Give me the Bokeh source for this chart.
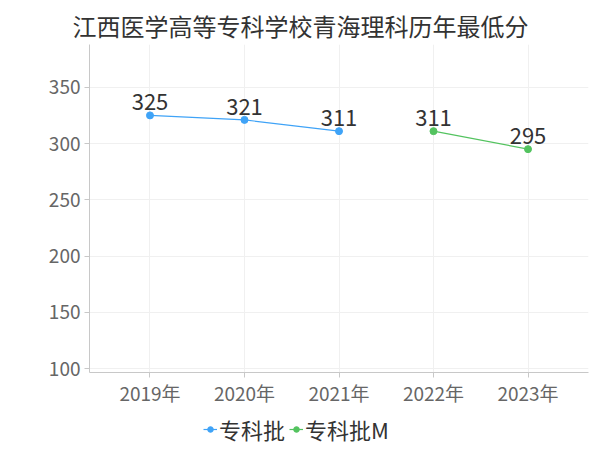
from bokeh.plotting import figure
from bokeh.layouts import column
from bokeh.models import ColumnDataSource, Legend, LegendItem, FixedTicker, Range1d
from bokeh.core.properties import value
from bokeh.embed import file_html
from bokeh.resources import INLINE

title = "江西医学高等专科学校青海理科历年最低分"
years = ["2019年", "2020年", "2021年", "2022年", "2023年"]
s1_name = "专科批"
s1_idx = [0, 1, 2]
s1_vals = [325, 321, 311]
s2_name = "专科批M"
s2_idx = [3, 4]
s2_vals = [311, 295]
y_ticks = [100, 150, 200, 250, 300, 350]

FONT = "Noto Sans CJK SC"
c1 = "#3fa3f7"
c2 = "#53c35f"

p = figure(width=600, height=412, output_backend="svg", toolbar_location=None,
           x_range=Range1d(-0.64, 4.64), y_range=Range1d(96.5, 388),
           min_border_left=89, min_border_right=12, min_border_top=44, min_border_bottom=40)
p.outline_line_color = None
p.title.text = title
p.title.text_font = FONT
p.title.text_font_size = "24px"
p.title.text_font_style = "normal"
p.title.text_color = "#333333"
p.title.align = "left"
p.title.offset = -17
p.title.standoff = 4

p.xaxis.ticker = FixedTicker(ticks=list(range(len(years))))
p.xaxis.major_label_overrides = {i: y for i, y in enumerate(years)}
p.yaxis.ticker = FixedTicker(ticks=y_ticks)
for ax in (p.xaxis[0], p.yaxis[0]):
    ax.axis_line_color = "#c8c8c8"
    ax.major_tick_line_color = "#c8c8c8"
    ax.minor_tick_line_color = None
    ax.major_tick_in = 0
    ax.major_tick_out = 5
    ax.major_label_text_font = FONT
    ax.major_label_text_font_size = "19px"
    ax.major_label_text_color = "#666666"
p.xaxis.major_label_standoff = 1
p.yaxis.major_label_standoff = 4
p.xgrid.grid_line_color = "#f0f0f0"
p.ygrid.grid_line_color = "#f0f0f0"
p.xgrid.ticker = FixedTicker(ticks=list(range(len(years))))
p.ygrid.ticker = FixedTicker(ticks=y_ticks)

src1 = ColumnDataSource(dict(x=s1_idx, y=s1_vals, t=[str(v) for v in s1_vals]))
src2 = ColumnDataSource(dict(x=s2_idx, y=s2_vals, t=[str(v) for v in s2_vals]))

p.line("x", "y", source=src1, color=c1, line_width=1.2)
p.scatter("x", "y", source=src1, color=c1, size=7)
p.line("x", "y", source=src2, color=c2, line_width=1.2)
p.scatter("x", "y", source=src2, color=c2, size=7)

for s in (src1, src2):
    p.text("x", "y", text="t", source=s, text_align="center", text_baseline="bottom",
           y_offset=-5, text_font=value(FONT), text_font_size="22px", text_color="#333333")

# legend strip (series renderers drawn out of view; only their legend glyphs show)
lf = figure(width=600, height=38, output_backend="svg", toolbar_location=None,
            x_range=Range1d(1000, 1001), y_range=Range1d(1000, 1001),
            min_border_left=0, min_border_right=0, min_border_top=0, min_border_bottom=0)
lf.axis.visible = False
lf.grid.visible = False
lf.outline_line_color = None
ll1 = lf.line("x", "y", source=src1, color=c1, line_width=1.2)
lm1 = lf.scatter("x", "y", source=src1, color=c1, size=7)
ll2 = lf.line("x", "y", source=src2, color=c2, line_width=1.2)
lm2 = lf.scatter("x", "y", source=src2, color=c2, size=7)
legend = Legend(items=[LegendItem(label=s1_name, renderers=[ll1, lm1]),
                       LegendItem(label=s2_name, renderers=[ll2, lm2])],
                orientation="horizontal", location=(114, 5),
                label_text_font=FONT, label_text_font_size="22px",
                label_text_color="#333333", glyph_width=14, glyph_height=14,
                spacing=4, label_standoff=2, padding=0, margin=0,
                border_line_color=None, background_fill_alpha=0)
lf.add_layout(legend)

layout = column(p, lf, spacing=0)
open("out.html", "w").write(file_html(layout, INLINE))
